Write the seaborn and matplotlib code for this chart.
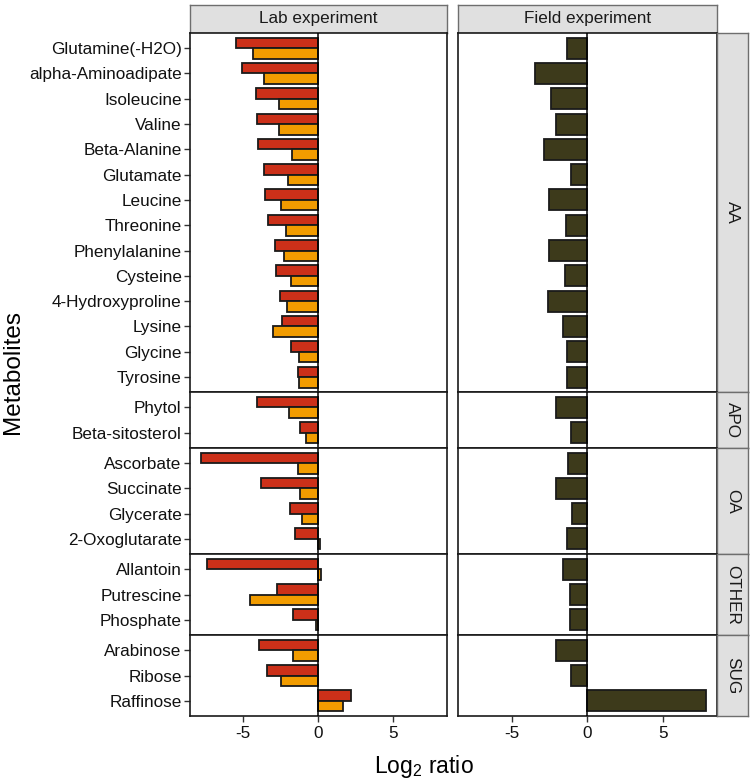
import matplotlib
matplotlib.use("Agg")
import matplotlib.pyplot as plt
import pandas as pd
import seaborn as sns

# ---------------- data ----------------
metabolites = [
    "Glutamine(-H2O)", "alpha-Aminoadipate", "Isoleucine", "Valine", "Beta-Alanine",
    "Glutamate", "Leucine", "Threonine", "Phenylalanine", "Cysteine",
    "4-Hydroxyproline", "Lysine", "Glycine", "Tyrosine",
    "Phytol", "Beta-sitosterol",
    "Ascorbate", "Succinate", "Glycerate", "2-Oxoglutarate",
    "Allantoin", "Putrescine", "Phosphate",
    "Arabinose", "Ribose", "Raffinose",
]
metabolite_class = [
    "AA", "AA", "AA", "AA", "AA", "AA", "AA", "AA", "AA", "AA", "AA", "AA", "AA", "AA",
    "APO", "APO",
    "OA", "OA", "OA", "OA",
    "OTHER", "OTHER", "OTHER",
    "SUG", "SUG", "SUG",
]
classes = ["AA", "APO", "OA", "OTHER", "SUG"]

lab_condition_1 = [
    -5.47, -5.06, -4.17, -4.11, -4.00, -3.58, -3.53, -3.33, -2.87, -2.83,
    -2.52, -2.43, -1.83, -1.32,
    -4.08, -1.24,
    -7.79, -3.82, -1.88, -1.57,
    -7.44, -2.76, -1.68,
    -3.95, -3.38, 2.21,
]
lab_condition_2 = [
    -4.35, -3.62, -2.63, -2.63, -1.77, -2.01, -2.49, -2.16, -2.25, -1.83,
    -2.10, -3.00, -1.28, -1.28,
    -1.94, -0.79,
    -1.35, -1.24, -1.06, 0.13,
    0.22, -4.55, -0.11,
    -1.68, -2.47, 1.66,
]
field_values = [
    -1.36, -3.42, -2.36, -2.09, -2.84, -1.09, -2.51, -1.40, -2.53, -1.44,
    -2.58, -1.62, -1.31, -1.36,
    -2.04, -1.04,
    -1.24, -2.07, -1.02, -1.33,
    -1.60, -1.16, -1.11,
    -2.04, -1.04, 7.84,
]
facets = ["Lab experiment", "Field experiment"]
x_ticks = [-5, 0, 5]

# ---------------- styling ----------------
RED = "#cc3019"
ORANGE = "#f29c00"
OLIVE = "#3d3a1b"
EDGE = "#1a1a1a"
STRIP = "#e0e0e0"

sns.set_style("white")
plt.rcParams["font.family"] = ["Liberation Sans", "DejaVu Sans"]
plt.rcParams["axes.unicode_minus"] = False
plt.rcParams["mathtext.fontset"] = "custom"
plt.rcParams["mathtext.rm"] = "Liberation Sans"
plt.rcParams["mathtext.it"] = "Liberation Sans:italic"

df = pd.DataFrame({
    "metabolite": metabolites,
    "cls": metabolite_class,
    "c1": lab_condition_1,
    "c2": lab_condition_2,
    "field": field_values,
})
lab_long = df.melt(id_vars=["metabolite", "cls"], value_vars=["c1", "c2"],
                   var_name="condition", value_name="value")

W, H = 750, 779
fig = plt.figure(figsize=(W / 100, H / 100), dpi=100)


def rect(x0, y0, x1, y1):
    return [x0 / W, 1 - y1 / H, (x1 - x0) / W, (y1 - y0) / H]


top_px, bot_px = 33, 716
cols = [(190, 447), (458, 717)]
strip_right = (717, 748)
counts = [metabolite_class.count(c) for c in classes]
units = [c + 0.2 for c in counts]
scale = (bot_px - top_px) / sum(units)
XLIM = (-8.55, 8.6)
FS = 12.3

# top strips
for (x0, x1), name in zip(cols, facets):
    sax = fig.add_axes(rect(x0, 5, x1, top_px))
    sax.set_facecolor(STRIP)
    sax.set_xticks([]); sax.set_yticks([])
    for s in sax.spines.values():
        s.set_color("#6e6e6e"); s.set_linewidth(1.0)
    sax.text(0.5, 0.5, name, ha="center", va="center", fontsize=FS,
             color="#1a1a1a", transform=sax.transAxes)

y = top_px
for gi, g in enumerate(classes):
    h = units[gi] * scale
    n = counts[gi]
    order = [m for m, c in zip(metabolites, metabolite_class) if c == g]
    last = gi == len(classes) - 1
    for ci, (x0, x1) in enumerate(cols):
        ax = fig.add_axes(rect(x0, y, x1, y + h))
        if ci == 0:
            sub = lab_long[lab_long["cls"] == g]
            sns.barplot(data=sub, x="value", y="metabolite", hue="condition",
                        order=order, hue_order=["c1", "c2"],
                        palette=[RED, ORANGE], width=0.83, saturation=1,
                        edgecolor=EDGE, linewidth=1.3, errorbar=None,
                        legend=False, orient="h", ax=ax)
        else:
            sub = df[df["cls"] == g]
            sns.barplot(data=sub, x="field", y="metabolite", order=order,
                        color=OLIVE, width=0.83, saturation=1,
                        edgecolor=EDGE, linewidth=1.3, errorbar=None,
                        orient="h", ax=ax)
        ax.axvline(0, color="black", lw=1.1, zorder=4)
        ax.set_xlim(*XLIM)
        ax.set_ylim(n - 0.4, -0.6)
        ax.set_xlabel("")
        ax.set_ylabel("")
        for s in ax.spines.values():
            s.set_visible(True); s.set_color("#1a1a1a"); s.set_linewidth(1.2)
        if ci == 0:
            ax.tick_params(axis="y", left=True, length=4, width=1,
                           color="#333333", labelsize=FS, labelcolor="#111111", pad=2)
        else:
            ax.set_yticks([])
        if last:
            ax.set_xticks(x_ticks)
            ax.set_xticklabels([str(t) for t in x_ticks])
            ax.tick_params(axis="x", bottom=True, length=4, width=1,
                           color="#333333", labelsize=FS, labelcolor="#111111", pad=3)
        else:
            ax.set_xticks([])
    # right strip
    rax = fig.add_axes(rect(strip_right[0], y, strip_right[1], y + h))
    rax.set_facecolor(STRIP)
    rax.set_xticks([]); rax.set_yticks([])
    for s in rax.spines.values():
        s.set_color("#6e6e6e"); s.set_linewidth(1.0)
    rax.text(0.5, 0.5, g, ha="center", va="center", rotation=-90,
             fontsize=FS, color="#1a1a1a", transform=rax.transAxes)
    y += h

fig.text(424 / W, 1 - 766 / H, r"Log$_2$ ratio", ha="center", va="center",
         fontsize=16.5, color="black")
fig.text(13 / W, 1 - 372 / H, "Metabolites", ha="center", va="center",
         rotation=90, fontsize=17.5, color="black")

fig.savefig("out.png", dpi=100)
